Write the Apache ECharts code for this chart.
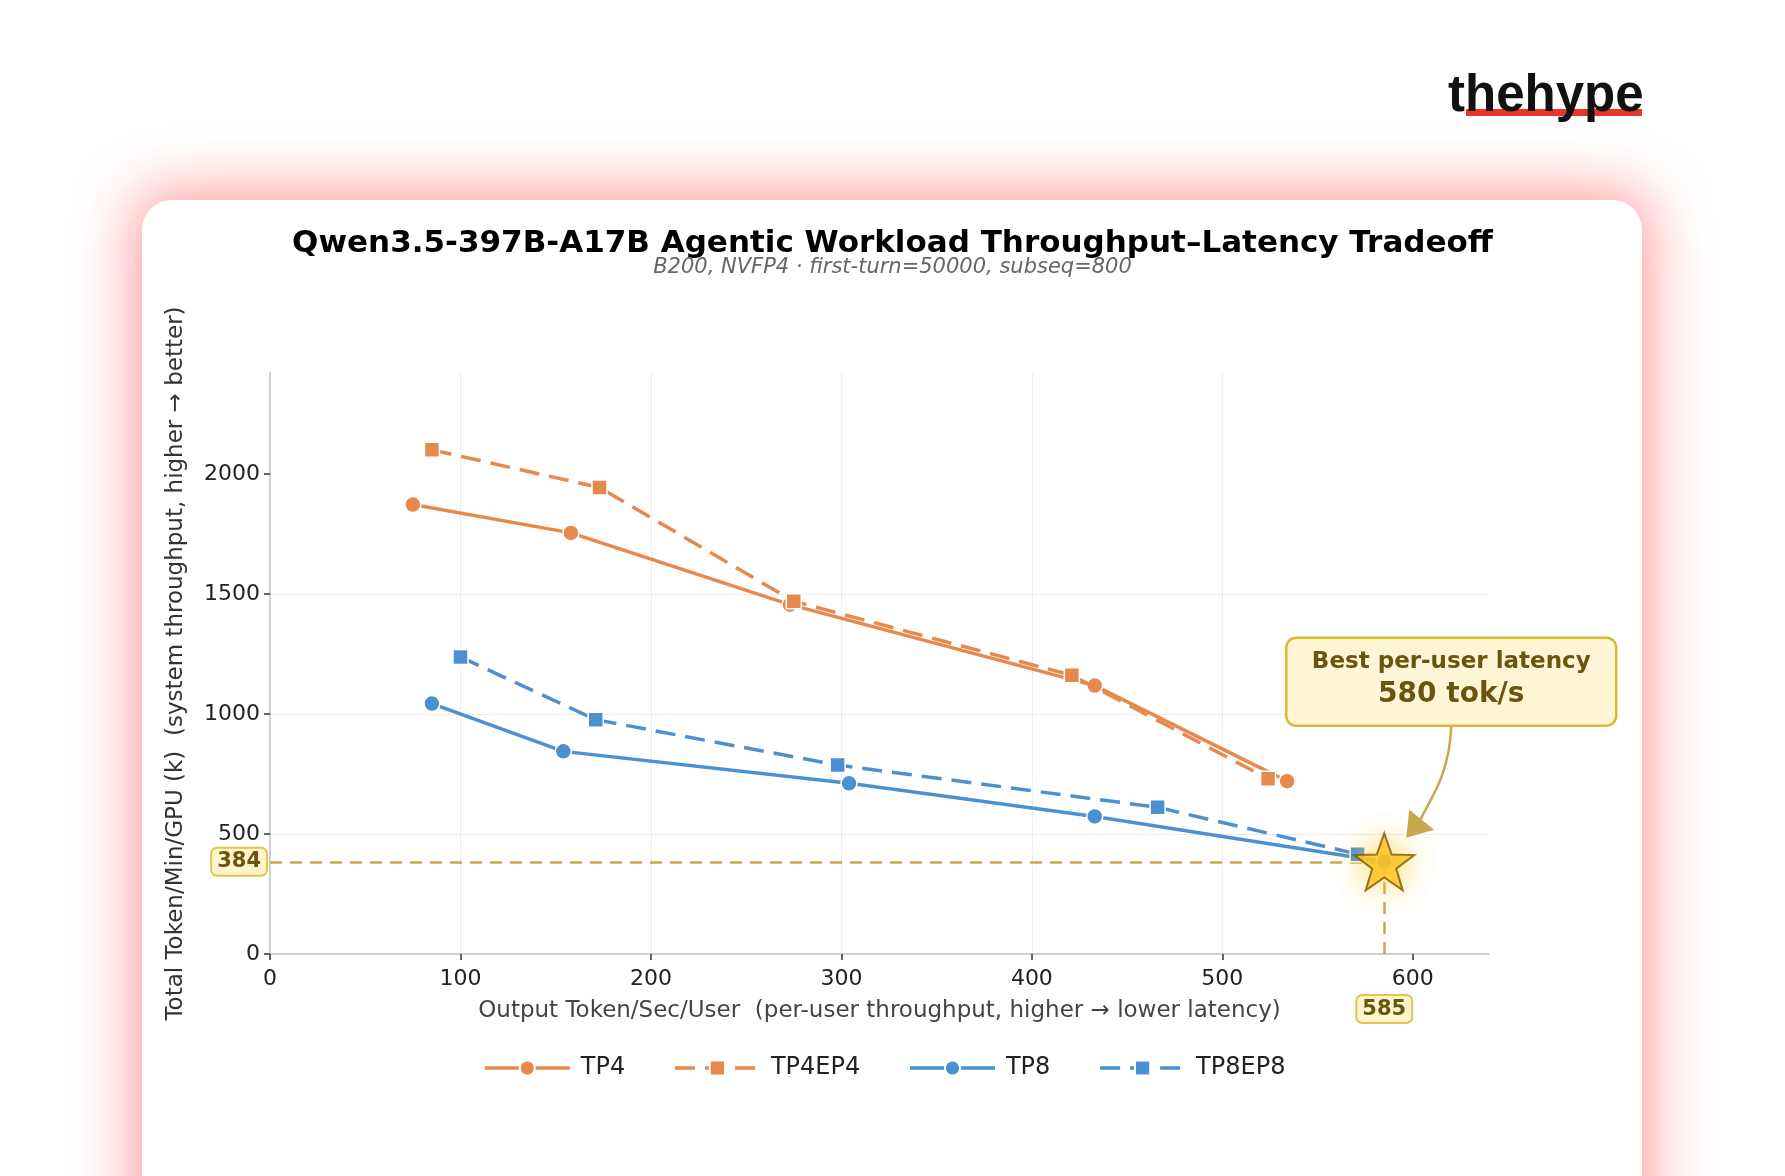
<!DOCTYPE html>
<html>
<head>
<meta charset="utf-8">
<script src="https://cdn.jsdelivr.net/npm/echarts@6/dist/echarts.min.js"></script>
<style>
  html, body { margin: 0; padding: 0; background: #ffffff; }
  #wrap { position: relative; width: 1785px; height: 1176px; overflow: hidden; background: #fff; }
  #card { position: absolute; left: 142px; top: 200px; width: 1500px; height: 1100px;
          background: #fff; border-radius: 30px;
          box-shadow: 0 0 55px 12px rgba(255, 95, 95, 0.55); }
  #chart { position: absolute; left: 0; top: 0; width: 1785px; height: 1176px; }
</style>
</head>
<body>
<div id="wrap">
  <div id="card"></div>
  <div id="chart"></div>
</div>
<script>
// ---------- data ----------
const seriesNames = ['TP4', 'TP4EP4', 'TP8', 'TP8EP8'];
const tp4X    = [75, 158, 273, 433, 534];
const tp4Y    = [1872, 1754, 1455, 1118, 720];
const tp4ep4X = [85, 173, 275, 421, 524];
const tp4ep4Y = [2100, 1943, 1469, 1161, 730];
const tp8X    = [85, 154, 304, 433, 585];
const tp8Y    = [1043, 844, 711, 573, 384];
const tp8ep8X = [100, 171, 298, 466, 571];
const tp8ep8Y = [1237, 976, 787, 611, 416];
const bestPoint = [585, 384];
const bestLabel = '580 tok/s';
const xTicks = [0, 100, 200, 300, 400, 500, 600];
const yTicks = [0, 500, 1000, 1500, 2000];

const titleText = 'Qwen3.5-397B-A17B Agentic Workload Throughput\u2013Latency Tradeoff';
const subText = 'B200, NVFP4 \u00b7 first-turn=50000, subseq=800';
const xName = 'Output Token/Sec/User  (per-user throughput, higher \u2192 lower latency)';
const yName = 'Total Token/Min/GPU (k)  (system throughput, higher \u2192 better)';

// ---------- style ----------
const ORANGE = '#E5894C';
const BLUE = '#4B90D1';
const GOLD = '#C9A84A';
const FONT = '"DejaVu Sans", sans-serif';
const STAR = 'path://M0 -50 L11.76 -16.18 L47.55 -15.45 L19.02 6.18 L29.39 40.45 L0 20 L-29.39 40.45 L-19.02 6.18 L-47.55 -15.45 L-11.76 -16.18 Z';

function zip(xs, ys) { return xs.map((x, i) => [x, ys[i]]); }

function lineSeries(name, xs, ys, color, symbol, dashed, z) {
  return {
    name: name, type: 'line', data: zip(xs, ys), z: z,
    symbol: symbol, symbolSize: symbol === 'circle' ? 16 : 15,
    lineStyle: { color: color, width: 3.5, type: dashed ? [20, 10] : 'solid' },
    itemStyle: { color: color, borderColor: '#fff', borderWidth: 1.5 },
    emphasis: { disabled: true },
    animation: false
  };
}

const chart = echarts.init(document.getElementById('chart'), null, { renderer: 'canvas' });

const boxLabel = {
  show: true, color: '#6B5410', fontFamily: FONT, fontWeight: 'bold', fontSize: 21,
  backgroundColor: '#FFF4CC', borderColor: '#E2C54E', borderWidth: 2, borderRadius: 5,
  padding: [3, 5, 2, 5]
};
const plain = v => String(v);

const option = {
  animation: false,
  title: {
    text: titleText, subtext: subText, left: 'center', top: 222, itemGap: -5,
    textStyle: { fontFamily: FONT, fontWeight: 'bold', fontSize: 31, color: '#000', lineHeight: 34 },
    subtextStyle: { fontFamily: FONT, fontStyle: 'italic', fontSize: 21, color: '#666', lineHeight: 24 }
  },
  legend: {
    data: seriesNames, top: 1051, left: 478,
    itemWidth: 85, itemHeight: 19, itemGap: 48,
    lineStyle: { width: 3.5 },
    textStyle: { fontFamily: FONT, fontSize: 24, color: '#222', padding: [0, 0, 0, 6] }
  },
  grid: { left: 270, right: 296, top: 373, bottom: 222, containLabel: false },
  xAxis: {
    type: 'value', min: 0, max: 640,
    name: xName, nameLocation: 'middle', nameGap: 46,
    nameTextStyle: { fontFamily: FONT, fontSize: 23, color: '#444' },
    axisLine: { show: true, lineStyle: { color: '#cfcfcf', width: 2 } },
    axisTick: { show: true, length: 6, lineStyle: { color: '#333', width: 1.5 }, customValues: xTicks },
    axisLabel: { fontFamily: FONT, fontSize: 22, color: '#222', margin: 14, customValues: xTicks, formatter: plain },
    splitLine: { show: true, showMaxLine: false, lineStyle: { color: '#ececec', width: 1 } }
  },
  yAxis: {
    type: 'value', min: 0, max: 2420,
    name: yName, nameLocation: 'middle', nameGap: 82, nameRotate: 90,
    nameTextStyle: { fontFamily: FONT, fontSize: 23, color: '#333' },
    axisLine: { show: true, lineStyle: { color: '#cfcfcf', width: 2 } },
    axisTick: { show: true, length: 6, lineStyle: { color: '#333', width: 1.5 }, customValues: yTicks },
    axisLabel: { fontFamily: FONT, fontSize: 22, color: '#222', margin: 10, customValues: yTicks, formatter: plain },
    splitLine: { show: true, showMaxLine: false, lineStyle: { color: '#ececec', width: 1 } }
  },
  series: [
    lineSeries('TP4', tp4X, tp4Y, ORANGE, 'circle', false, 3),
    lineSeries('TP4EP4', tp4ep4X, tp4ep4Y, ORANGE, 'rect', true, 4),
    lineSeries('TP8', tp8X, tp8Y, BLUE, 'circle', false, 3),
    lineSeries('TP8EP8', tp8ep8X, tp8ep8Y, BLUE, 'rect', true, 4),
    {
      name: 'best', type: 'scatter', z: 10, data: [bestPoint],
      symbol: STAR, symbolSize: 60, symbolKeepAspect: true,
      itemStyle: { color: '#FFC21A', borderColor: '#7A5A00', borderWidth: 2,
                   shadowBlur: 28, shadowColor: 'rgba(255, 205, 60, 0.95)' },
      emphasis: { disabled: true },
      markLine: {
        silent: true, symbol: ['none', 'none'], z: 2,
        lineStyle: { color: GOLD, width: 2.5, type: [12, 8] },
        data: [
          [ { coord: [0, bestPoint[1]], label: Object.assign({}, boxLabel, { position: 'start', distance: 4, formatter: String(bestPoint[1]) }) },
            { coord: [bestPoint[0], bestPoint[1]] } ],
          [ { coord: [bestPoint[0], 0], label: Object.assign({}, boxLabel, { position: 'start', distance: 42, formatter: String(bestPoint[0]) }) },
            { coord: [bestPoint[0], bestPoint[1]] } ]
        ]
      }
    }
  ]
};
chart.setOption(option);

// annotation placed relative to the best point (pixel position from the axes)
const p = chart.convertToPixel({ gridIndex: 0 }, bestPoint);
const bx = p[0] + 67, by = p[1] - 180;   // box center
const bw = 330, bh = 88;
const tip = [p[0] + 22, p[1] - 24];
const endPt = [tip[0] + 12, tip[1] - 14];
chart.setOption({
  graphic: [
    { type: 'rect', z: 100, shape: { x: 1466, y: 109, width: 176, height: 7 }, style: { fill: '#E8352E' } },
    { type: 'text', z: 101, style: { x: 1448, y: 71, text: 'thehype', fill: '#111',
        font: 'bold 51px "Liberation Sans", Arial, sans-serif', verticalAlign: 'top' } },
    { type: 'rect', z: 100, shape: { x: bx - bw / 2, y: by - bh / 2, width: bw, height: bh, r: 10 },
      style: { fill: '#FFF6D6', stroke: '#D9BA32', lineWidth: 2.5 } },
    { type: 'text', z: 101, style: { x: bx, y: by - 20, text: 'Best per-user latency', fill: '#6B5410',
        font: 'bold 23px "DejaVu Sans", sans-serif', align: 'center', verticalAlign: 'middle' } },
    { type: 'text', z: 101, style: { x: bx, y: by + 13, text: bestLabel, fill: '#6B5410',
        font: 'bold 28px "DejaVu Sans", sans-serif', align: 'center', verticalAlign: 'middle' } },
    { type: 'bezierCurve', z: 100,
      shape: { x1: bx, y1: by + bh / 2 + 1, cpx1: bx - 2, cpy1: by + bh / 2 + 50, cpx2: endPt[0] + 12, cpy2: endPt[1] - 25, x2: endPt[0], y2: endPt[1] },
      style: { stroke: GOLD, lineWidth: 2.5, fill: null } },
    { type: 'polygon', z: 100,
      shape: { points: [[tip[0], tip[1]], [tip[0] + 3, tip[1] - 28], [tip[0] + 28, tip[1] - 8]] },
      style: { fill: GOLD } }
  ]
});
</script>
</body>
</html>
